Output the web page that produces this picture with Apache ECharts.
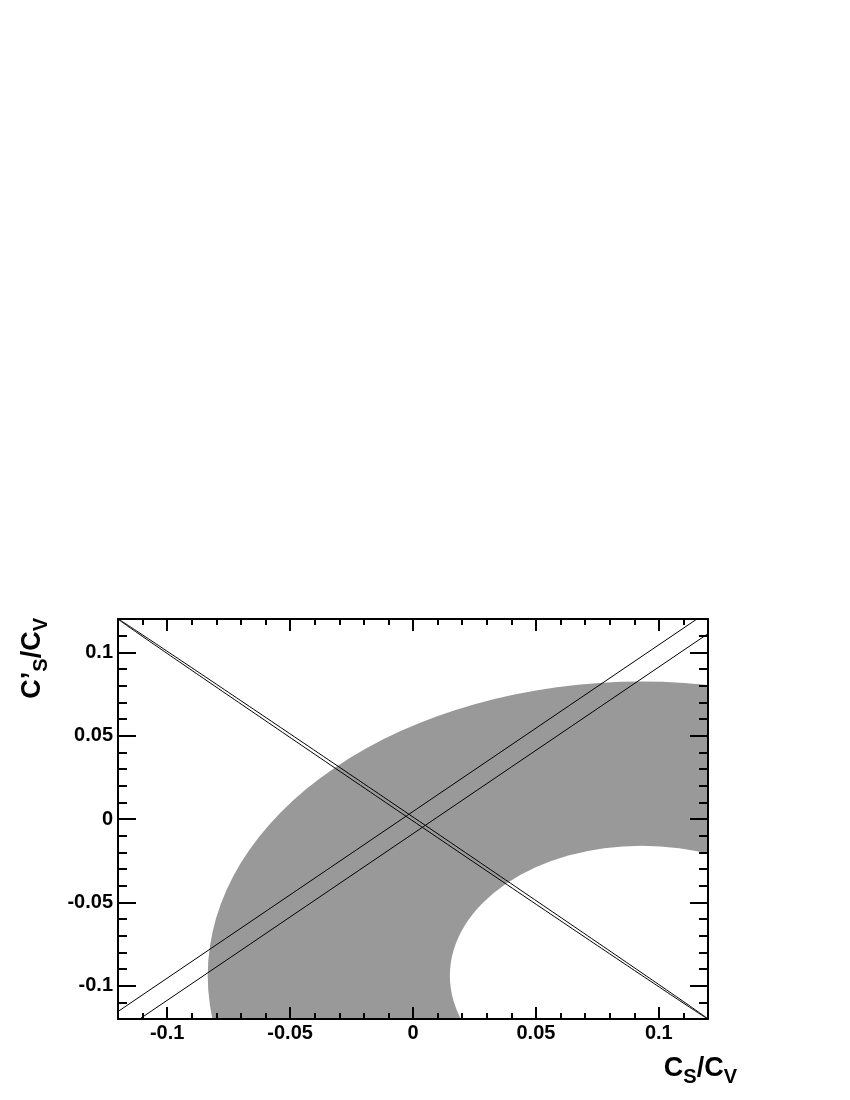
<!DOCTYPE html>
<html>
<head>
<meta charset="utf-8">
<script src="https://cdn.jsdelivr.net/npm/echarts@6/dist/echarts.min.js"></script>
<style>
html,body{margin:0;padding:0;background:#fff;}
#chart{width:850px;height:1100px;}
</style>
</head>
<body>
<div id="chart"></div>
<script>
// ---- data ----
const xRange = [-0.12, 0.12];
const yRange = [-0.12, 0.12];
const xMajorTicks = [-0.1, -0.05, 0, 0.05, 0.1];
const xTickLabels = ['-0.1', '-0.05', '0', '0.05', '0.1'];
const yMajorTicks = [-0.1, -0.05, 0, 0.05, 0.1];
const yTickLabels = ['-0.1', '-0.05', '0', '0.05', '0.1'];
const xMinorTicks = [-0.12,-0.11,-0.09,-0.08,-0.07,-0.06,-0.04,-0.03,-0.02,-0.01,0.01,0.02,0.03,0.04,0.06,0.07,0.08,0.09,0.11,0.12];
const yMinorTicks = [-0.12,-0.11,-0.09,-0.08,-0.07,-0.06,-0.04,-0.03,-0.02,-0.01,0.01,0.02,0.03,0.04,0.06,0.07,0.08,0.09,0.11,0.12];

// grey allowed ring: centre and inner / outer radius (data units)
const ringCenter = [0.093, -0.094];
const ringRadii = [0.078, 0.1765];

// thin elliptical band along C'S = -CS : centre, semi-major end, semi-minor end
const thinCenter = [0, 0];
const thinMajor = [0.12, -0.12];
const thinMinor = [0.0006, 0.0006];

// two straight bounds with slope +1
const lineUpper = [[-0.12, -0.1155], [0.1155, 0.12]];
const lineLower = [[-0.1112, -0.12], [0.12, 0.1112]];

// ---- chart ----
const FONT = 'Liberation Sans';
const chart = echarts.init(document.getElementById('chart'), null, {renderer: 'canvas'});

function makeAxis(kind, pos, ticks, len, labels, showLine) {
  const range = kind === 'x' ? xRange : yRange;
  const ax = {
    type: 'value', gridIndex: 0, position: pos,
    min: range[0], max: range[1], z: 10,
    splitLine: {show: false},
    axisLine: {show: showLine, onZero: false, lineStyle: {color: '#000', width: 2}},
    axisTick: {show: true, inside: true, length: len, customValues: ticks, lineStyle: {color: '#000', width: 2}},
    axisLabel: {show: false}
  };
  if (labels) {
    ax.axisLabel = {
      show: true, customValues: ticks,
      formatter: function (v) {
        const i = ticks.findIndex(t => Math.abs(t - v) < 1e-9);
        return i >= 0 ? labels[i] : '';
      },
      color: '#000', fontFamily: FONT, fontWeight: 'bold', fontSize: 20,
      margin: kind === 'x' ? 4 : 5
    };
  }
  return ax;
}

const rich = {
  m: {fontFamily: FONT, fontWeight: 'bold', fontSize: 27, lineHeight: 28, verticalAlign: 'top', color: '#000'},
  s: {fontFamily: FONT, fontWeight: 'bold', fontSize: 20, lineHeight: 20, verticalAlign: 'top', padding: [12, 0, 0, 0], color: '#000'}
};

const option = {
  backgroundColor: '#fff',
  animation: false,
  grid: {left: 118, top: 619, right: 142, bottom: 81, containLabel: false},
  xAxis: [
    makeAxis('x', 'bottom', xMajorTicks, 12, xTickLabels, true),
    makeAxis('x', 'bottom', xMinorTicks, 6, null, false),
    makeAxis('x', 'top', xMajorTicks, 12, null, true),
    makeAxis('x', 'top', xMinorTicks, 6, null, false)
  ],
  yAxis: [
    makeAxis('y', 'left', yMajorTicks, 18, yTickLabels, true),
    makeAxis('y', 'left', yMinorTicks, 9, null, false),
    makeAxis('y', 'right', yMajorTicks, 18, null, true),
    makeAxis('y', 'right', yMinorTicks, 9, null, false)
  ],
  graphic: [
    {type: 'text', x: 737, y: 1055, z: 20,
     style: {text: '{m|C}{s|S}{m|/C}{s|V}', align: 'right', verticalAlign: 'top', rich: rich}},
    {type: 'text', x: 19, y: 618, rotation: Math.PI / 2, z: 20,
     style: {text: '{m|C’}{s|S}{m|/C}{s|V}', align: 'right', verticalAlign: 'top', rich: rich}}
  ],
  series: [
    {
      type: 'custom', coordinateSystem: 'cartesian2d', xAxisIndex: 0, yAxisIndex: 0,
      clip: true, silent: true, z: 1,
      data: [ringCenter],
      renderItem: function (params, api) {
        const c = api.coord([api.value(0), api.value(1)]);
        const so = api.size([ringRadii[1], ringRadii[1]]);
        const si = api.size([ringRadii[0], ringRadii[0]]);
        return {
          type: 'ring', x: c[0], y: c[1], scaleX: 1, scaleY: so[1] / so[0],
          shape: {cx: 0, cy: 0, r: so[0], r0: si[0]},
          style: {fill: '#999999'}
        };
      }
    },
    {
      type: 'custom', coordinateSystem: 'cartesian2d', xAxisIndex: 0, yAxisIndex: 0,
      clip: true, silent: true, z: 3,
      data: [thinCenter],
      renderItem: function (params, api) {
        const c = api.coord(thinCenter);
        const a = api.coord([thinCenter[0] + thinMajor[0], thinCenter[1] + thinMajor[1]]);
        const b = api.coord([thinCenter[0] + thinMinor[0], thinCenter[1] + thinMinor[1]]);
        const U = [a[0] - c[0], a[1] - c[1]], V = [b[0] - c[0], b[1] - c[1]];
        const pts = [];
        const N = 360;
        for (let k = 0; k < N; k++) {
          const t = 2 * Math.PI * k / N;
          pts.push([c[0] + U[0] * Math.cos(t) + V[0] * Math.sin(t), c[1] + U[1] * Math.cos(t) + V[1] * Math.sin(t)]);
        }
        return {type: 'polygon', shape: {points: pts}, style: {fill: 'none', stroke: '#000', lineWidth: 1}};
      }
    },
    {type: 'line', xAxisIndex: 0, yAxisIndex: 0, data: lineUpper, showSymbol: false, symbol: 'none', clip: true, z: 4,
     lineStyle: {color: '#000', width: 1}},
    {type: 'line', xAxisIndex: 0, yAxisIndex: 0, data: lineLower, showSymbol: false, symbol: 'none', clip: true, z: 4,
     lineStyle: {color: '#000', width: 1}}
  ]
};
chart.setOption(option);
</script>
</body>
</html>
